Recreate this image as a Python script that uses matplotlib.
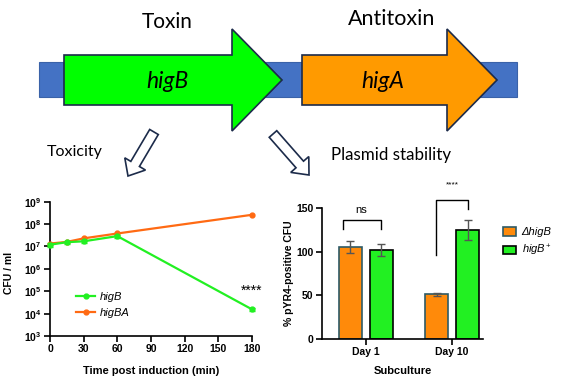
import math
import matplotlib.pyplot as plt
import matplotlib.ticker as mticker
from matplotlib.patches import Polygon, Rectangle, FancyArrow
from matplotlib.lines import Line2D

# growth after induction
times = [0, 15, 30, 60, 180]
higB_cfu = [1.2e7, 1.55e7, 1.7e7, 2.9e7, 1.55e4]
higB_err = [2.5e6, 2.5e6, 3.0e6, 5.0e6, 2.0e3]
higBA_cfu = [1.35e7, 1.6e7, 2.3e7, 3.8e7, 2.6e8]

# plasmid stability
days = ["Day 1", "Day 10"]
delta_pct = [105, 51]
delta_err = [7, 2]
plus_pct = [101.5, 124.8]
plus_err = [7, 11]

W, H = 565, 388
GREEN = "#22f022"
ORANGE_LINE = "#ff6a13"
ORANGE_BAR = "#ff8a0a"
NAVY = "#1c2b4a"

plt.rcParams["font.family"] = ["Liberation Sans", "DejaVu Sans"]
plt.rcParams["mathtext.fontset"] = "custom"
plt.rcParams["mathtext.rm"] = "Liberation Sans"
plt.rcParams["mathtext.it"] = "Liberation Sans:italic"
plt.rcParams["mathtext.bf"] = "Liberation Sans:bold"

fig = plt.figure(figsize=(W / 100, H / 100), dpi=100)

# ---- gene diagram, drawn in pixel units ----
dg = fig.add_axes([0, 0, 1, 1])
dg.set_xlim(0, W)
dg.set_ylim(H, 0)
dg.axis("off")

dg.add_patch(Rectangle((39, 62), 478, 35, facecolor="#4472c4", edgecolor="#3a62a8", lw=0.8))


def gene(x0, xb, xt, color):
    pts = [(x0, 55), (xb, 55), (xb, 29), (xt, 80), (xb, 131), (xb, 105), (x0, 105)]
    dg.add_patch(Polygon(pts, closed=True, facecolor=color, edgecolor=NAVY, lw=1.2))


gene(64, 232, 282, "#00ff00")
gene(302, 447, 497, "#ff9a00")

calibri = ["Lato", "DejaVu Sans"]
dg.text(167, 22, "Toxin", fontsize=15, ha="center", va="center", family=calibri)
dg.text(392, 19, "Antitoxin", fontsize=15.5, ha="center", va="center", family=calibri)
dg.text(167, 82, "higB", fontsize=16.5, style="italic", ha="center", va="center", family=calibri)
dg.text(383, 82, "higA", fontsize=16.5, style="italic", ha="center", va="center", family=calibri)
dg.text(75, 152, "Toxicity", fontsize=11.5, ha="center", va="center", family=calibri)
dg.text(391, 155, "Plasmid stability", fontsize=12.2, ha="center", va="center", family=calibri)

for (x1, y1), (x2, y2) in [((154, 132), (128, 176)), ((273, 134), (309, 175))]:
    dg.add_patch(FancyArrow(x1, y1, x2 - x1, y2 - y1, width=10, head_width=24,
                            head_length=14, length_includes_head=True,
                            facecolor="white", edgecolor=NAVY, lw=1.2))

# ---- left: CFU over time ----
ax1 = fig.add_axes([50 / W, (H - 336) / H, 202 / W, 134.3 / H])
ax1.errorbar(times, higB_cfu, yerr=higB_err, color=GREEN, lw=1.6, marker="o", ms=3.5,
             capsize=2, elinewidth=1, clip_on=False, zorder=4)
ax1.plot(times, higBA_cfu, color=ORANGE_LINE, lw=1.6, marker="o", ms=3.5, clip_on=False, zorder=3)
ax1.set_yscale("log")
ax1.set_ylim(1e3, 1e9)
ax1.set_xlim(0, 180)
ax1.set_xticks([0, 30, 60, 90, 120, 150, 180])
ax1.yaxis.set_major_locator(mticker.LogLocator(base=10, numticks=10))
ax1.yaxis.set_minor_locator(mticker.NullLocator())
ax1.yaxis.set_major_formatter(
    mticker.FuncFormatter(lambda v, p: r"$\mathbf{10^{%d}}$" % round(math.log10(v))))
ax1.set_xlabel("Time post induction (min)", fontsize=8, fontweight="bold")
ax1.set_ylabel("CFU / ml", fontsize=7.5, fontweight="bold")
ax1.xaxis.set_label_coords(0.5, -0.22)
ax1.yaxis.set_label_coords(-0.18, 0.47)
ax1.text(180, 1.1e5, "****", fontsize=10, ha="center", va="center")
handles = [Line2D([], [], color=GREEN, lw=1.6, marker="o", ms=3.5),
           Line2D([], [], color=ORANGE_LINE, lw=1.6, marker="o", ms=3.5)]
ax1.legend(handles, ["higB", "higBA"], loc="center left", bbox_to_anchor=(0.08, 0.23),
           frameon=False, prop={"style": "italic", "size": 8}, handlelength=1.7,
           handletextpad=0.4, labelspacing=0.55)

# ---- right: plasmid retention ----
ax2 = fig.add_axes([322 / W, (H - 339) / H, 161 / W, 131 / H])
xs = range(len(days))
bw = 0.27
ax2.bar([x - 0.18 for x in xs], delta_pct, bw, yerr=delta_err, color=ORANGE_BAR,
        edgecolor="#2d5a66", lw=1.2, capsize=3, error_kw={"ecolor": "#555555", "elinewidth": 1})
ax2.bar([x + 0.18 for x in xs], plus_pct, bw, yerr=plus_err, color=GREEN,
        edgecolor="black", lw=1.2, capsize=3, error_kw={"ecolor": "#555555", "elinewidth": 1})
ax2.set_xlim(-0.51, 1.36)
ax2.set_ylim(0, 150)
ax2.set_yticks([0, 50, 100, 150])
ax2.set_xticks(list(xs))
ax2.set_xticklabels(days)
ax2.set_xlabel("Subculture", fontsize=8, fontweight="bold")
ax2.set_ylabel("% pYR4-positive CFU", fontsize=7.5, fontweight="bold")
ax2.xaxis.set_label_coords(0.5, -0.205)
ax2.yaxis.set_label_coords(-0.175, 0.5)

ax2.plot([-0.27, -0.27, 0.17, 0.17], [126, 136, 136, 126], color="black", lw=1, clip_on=False)
ax2.text(-0.05, 148, "ns", fontsize=8, ha="center", va="center")
ax2.plot([0.81, 0.81, 1.19, 1.19], [96, 159, 159, 149], color="black", lw=1, clip_on=False)
ax2.text(1.0, 176, "****", fontsize=6, ha="center", va="center")

leg_h = [Rectangle((0, 0), 1, 1, facecolor=ORANGE_BAR, edgecolor="#2d5a66", lw=1.2),
         Rectangle((0, 0), 1, 1, facecolor=GREEN, edgecolor="black", lw=1.2)]
ax2.legend(leg_h, ["ΔhigB", r"$\mathit{higB}^{+}$"], loc="upper left",
           bbox_to_anchor=(1.06, 0.93), frameon=False, prop={"style": "italic", "size": 8},
           handlelength=1.2, handleheight=0.8, handletextpad=0.5, labelspacing=0.5)

for ax in (ax1, ax2):
    ax.spines["top"].set_visible(False)
    ax.spines["right"].set_visible(False)
    for s in ("left", "bottom"):
        ax.spines[s].set_linewidth(1.2)
    ax.tick_params(width=1.2, length=4, labelsize=7.5, pad=2)
    for lab in ax.get_xticklabels() + ax.get_yticklabels():
        lab.set_fontweight("bold")

fig.savefig("out.png", dpi=100)
